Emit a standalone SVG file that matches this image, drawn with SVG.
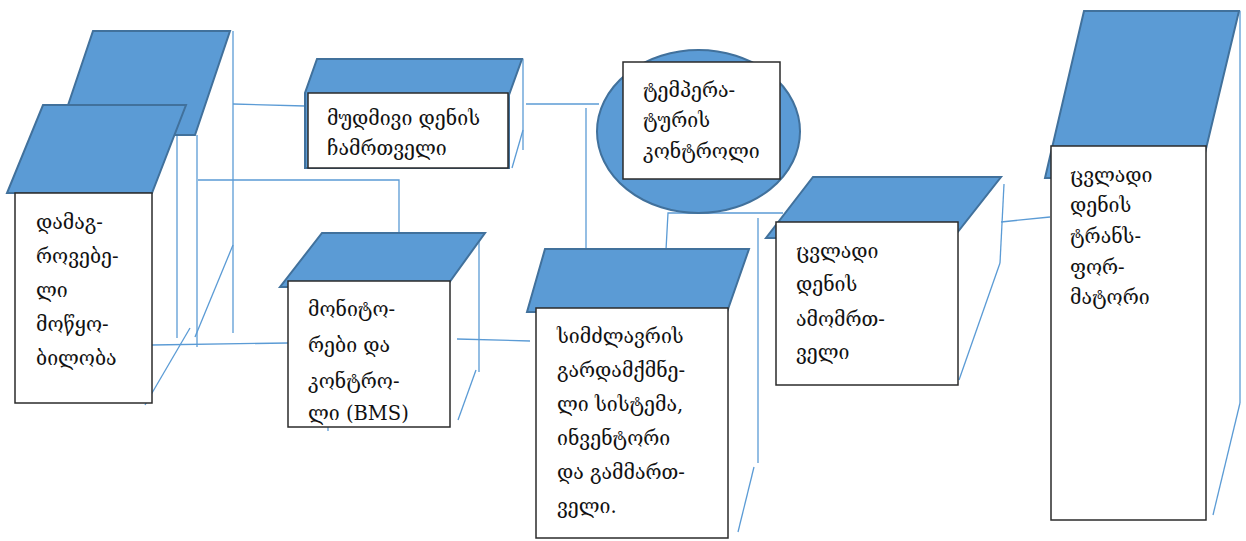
<svg xmlns="http://www.w3.org/2000/svg" width="1246" height="541" viewBox="0 0 1246 541">
<style>
.top{fill:#5B9BD5;stroke:#41719C;stroke-width:2;stroke-linejoin:miter}
.box{fill:#FFFFFF;stroke:#2B2B2B;stroke-width:1.5}
.ln{fill:none;stroke:#5B9BD5;stroke-width:1.3}
.t{font-family:"DejaVu Serif","DejaVu Sans",serif;font-size:19.5px;fill:#111}
</style>
<rect width="1246" height="541" fill="#FFFFFF"/>
<g id="connectors">
<line class="ln" x1="233" y1="31" x2="233" y2="333"/>
<line class="ln" x1="177" y1="128" x2="177" y2="338"/>
<line class="ln" x1="197" y1="135" x2="197" y2="347"/>
<line class="ln" x1="233" y1="245" x2="195" y2="337"/>
<line class="ln" x1="190" y1="328" x2="145" y2="405"/>
<line class="ln" x1="233" y1="104" x2="305" y2="106"/>
<polyline class="ln" points="198,180 399,180 399,234"/>
<line class="ln" x1="152" y1="345" x2="288" y2="343"/>
<line class="ln" x1="523" y1="59" x2="523" y2="150"/>
<line class="ln" x1="523" y1="130" x2="512" y2="168"/>
<line class="ln" x1="526" y1="104" x2="599" y2="104"/>
<line class="ln" x1="586" y1="108" x2="586" y2="250"/>
<polyline class="ln" points="666,250 668,213 783,213"/>
<line class="ln" x1="758" y1="218" x2="758" y2="463"/>
<line class="ln" x1="754" y1="467" x2="738" y2="532"/>
<line class="ln" x1="479" y1="238" x2="479" y2="372"/>
<line class="ln" x1="476" y1="370" x2="458" y2="420"/>
<line class="ln" x1="457" y1="339" x2="530" y2="341"/>
<line class="ln" x1="328" y1="427" x2="328" y2="431"/>
<line class="ln" x1="1004" y1="184" x2="1000" y2="263"/>
<line class="ln" x1="1000" y1="263" x2="959" y2="380"/>
<line class="ln" x1="1001" y1="222" x2="1050" y2="217"/>
<line class="ln" x1="1240" y1="11" x2="1240" y2="403"/>
<line class="ln" x1="1240" y1="403" x2="1213" y2="515"/>
</g>
<g id="node1">
<polygon class="top" points="93,31 230,31 195,135 58,135"/>
<polygon class="top" points="43,105 186,105 152,193 7,193"/>
<rect class="box" x="15" y="193" width="137" height="210"/>
<text class="t" x="36" y="229">დამაგ-</text>
<text class="t" x="36" y="263">როვებე-</text>
<text class="t" x="36" y="297">ლი</text>
<text class="t" x="36" y="331">მოწყო-</text>
<text class="t" x="36" y="365">ბილობა</text>
</g>
<g id="node2">
<polygon class="top" points="317,59 522,59 509,95 509,168 305,168 305,93"/>
<rect class="box" x="308" y="93" width="200" height="75"/>
<text class="t" x="327" y="125">მუდმივი დენის</text>
<text class="t" x="327" y="155">ჩამრთველი</text>
</g>
<g id="node3">
<ellipse cx="698.5" cy="131.5" rx="101.5" ry="81.5" fill="#5B9BD5" stroke="#41719C" stroke-width="2"/>
<rect class="box" x="623" y="62" width="157" height="117"/>
<text class="t" x="643" y="97">ტემპერა-</text>
<text class="t" x="643" y="127">ტურის</text>
<text class="t" x="643" y="158">კონტროლი</text>
</g>
<g id="node4">
<polygon class="top" points="322,233 485,233 446,287 280,287"/>
<rect class="box" x="288" y="281" width="162" height="146"/>
<text class="t" x="308" y="316">მონიტო-</text>
<text class="t" x="308" y="352">რები და</text>
<text class="t" x="308" y="388">კონტრო-</text>
<text class="t" x="308" y="420">ლი (BMS)</text>
</g>
<g id="node5">
<polygon class="top" points="545,249 749,249 727,312 527,312"/>
<rect class="box" x="536" y="308" width="192" height="230"/>
<text class="t" x="557" y="343">სიმძლავრის</text>
<text class="t" x="557" y="377">გარდამქმნე-</text>
<text class="t" x="557" y="411">ლი სისტემა,</text>
<text class="t" x="557" y="445">ინვენტორი</text>
<text class="t" x="557" y="479">და გამმართ-</text>
<text class="t" x="557" y="513">ველი.</text>
</g>
<g id="node6">
<polygon class="top" points="813,177 1001,177 953,238 766,238"/>
<rect class="box" x="776" y="222" width="182" height="163"/>
<text class="t" x="796" y="258">ცვლადი</text>
<text class="t" x="796" y="291">დენის</text>
<text class="t" x="796" y="326">ამომრთ-</text>
<text class="t" x="796" y="359">ველი</text>
</g>
<g id="node7">
<polygon class="top" points="1084,11 1239,11 1199,178 1045,178"/>
<rect class="box" x="1051" y="146" width="155" height="374"/>
<text class="t" x="1070" y="182">ცვლადი</text>
<text class="t" x="1070" y="212">დენის</text>
<text class="t" x="1070" y="243">ტრანს-</text>
<text class="t" x="1070" y="274">ფორ-</text>
<text class="t" x="1070" y="304">მატორი</text>
</g>
</svg>
